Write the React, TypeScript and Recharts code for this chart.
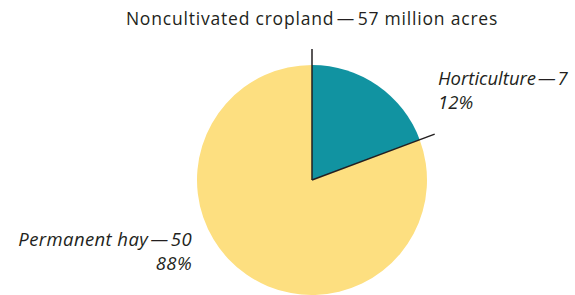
import { PieChart, Pie, Cell } from "recharts"

const CATEGORIES = ["Horticulture", "Permanent hay"]
const ACRES = [7, 50]
const PERCENT_LABELS = ["12%", "88%"]
// slice sizes as they are drawn in the source picture (teal wedge is ~69°)
const DRAWN_SHARE = [19.3, 80.7]
const TOTAL_LABEL = "Noncultivated cropland\u200a—\u200a57 million acres"
const COLORS = ["#1193a1", "#fddf80"]

const INK = "#231f20"
const FONT = "'Open Sans', sans-serif"
const RAD = Math.PI / 180

const data = CATEGORIES.map((name, i) => ({
  name,
  acres: ACRES[i],
  pct: PERCENT_LABELS[i],
  share: DRAWN_SHARE[i],
}))

function edge(cx: number, cy: number, r: number, angle: number) {
  return { x: cx + r * Math.cos(-angle * RAD), y: cy + r * Math.sin(-angle * RAD) }
}

function SliceLabel(props: any) {
  const { cx, cy, startAngle, endAngle, outerRadius, index, payload } = props
  const r = outerRadius + 16
  const text = `${payload.name}\u200a—\u200a${payload.acres}`
  if (index === 0) {
    const a = edge(cx, cy, r, startAngle)
    const b = edge(cx, cy, r, endAngle)
    return (
      <g>
        <text x={cx} y={25} fill={INK} fontFamily={FONT} fontSize={17.5} letterSpacing={0.8} textAnchor="middle">
          {TOTAL_LABEL}
        </text>
        <line x1={cx} y1={cy} x2={a.x} y2={a.y} stroke={INK} strokeWidth={1.5} />
        <line x1={cx} y1={cy} x2={b.x} y2={b.y} stroke={INK} strokeWidth={1.5} />
        <text x={438} y={85} fill={INK} fontFamily={FONT} fontStyle="italic" fontSize={18.5}>
          {text}
        </text>
        <text x={438} y={109} fill={INK} fontFamily={FONT} fontStyle="italic" fontSize={18.5}>
          {payload.pct}
        </text>
      </g>
    )
  }
  return (
    <g>
      <text x={192} y={246} fill={INK} fontFamily={FONT} fontStyle="italic" fontSize={18.5} letterSpacing={0.4} textAnchor="end">
        {text}
      </text>
      <text x={192} y={270} fill={INK} fontFamily={FONT} fontStyle="italic" fontSize={18.5} letterSpacing={0.4} textAnchor="end">
        {payload.pct}
      </text>
    </g>
  )
}

export default function App() {
  return (
    <div style={{ position: "absolute", left: 0, top: 0, width: 575, height: 295, background: "#fff" }}>
      <PieChart width={575} height={295} margin={{ top: 0, right: 0, bottom: 0, left: 0 }}>
        <Pie
          data={data}
          dataKey="share"
          cx={312}
          cy={180}
          outerRadius={115}
          startAngle={90}
          endAngle={-270}
          stroke="none"
          label={SliceLabel}
          labelLine={false}
          isAnimationActive={false}
        >
          {data.map((d, i) => (
            <Cell key={d.name} fill={COLORS[i]} />
          ))}
        </Pie>
      </PieChart>
    </div>
  )
}
